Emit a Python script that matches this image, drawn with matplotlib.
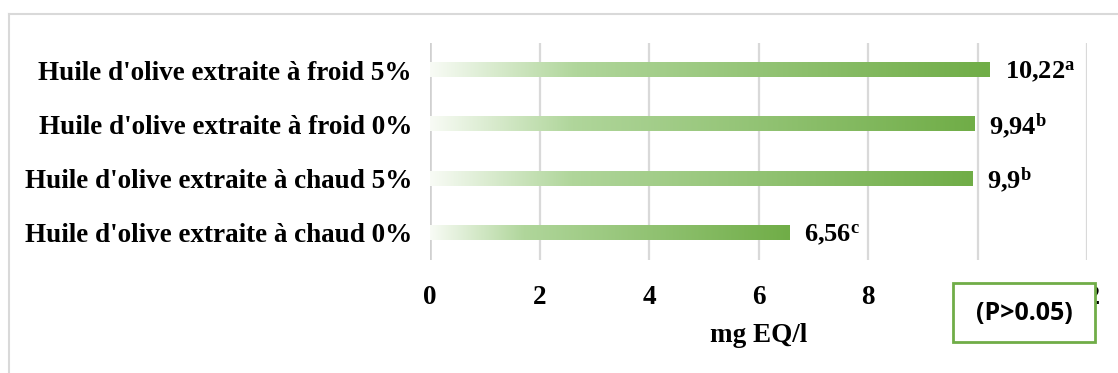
import matplotlib
matplotlib.use("Agg")
import matplotlib.pyplot as plt
import numpy as np
from matplotlib.colors import LinearSegmentedColormap
from matplotlib.patches import Rectangle
from matplotlib.lines import Line2D

# Data
categories = [
    "Huile d'olive extraite à chaud 0%",
    "Huile d'olive extraite à chaud 5%",
    "Huile d'olive extraite à froid 0%",
    "Huile d'olive extraite à froid 5%",
]
values = [6.56, 9.9, 9.94, 10.22]
value_labels = ["6,56", "9,9", "9,94", "10,22"]
letters = ["c", "b", "b", "a"]
xticks = [0, 2, 4, 6, 8, 10, 12]
x_label = "mg EQ/l"
note = "(P>0.05)"

plt.rcParams["font.family"] = "Liberation Serif"
plt.rcParams["mathtext.fontset"] = "custom"
plt.rcParams["mathtext.rm"] = "Liberation Serif:bold"
plt.rcParams["mathtext.bf"] = "Liberation Serif:bold"
plt.rcParams["mathtext.it"] = "Liberation Serif:bold"
plt.rcParams["mathtext.default"] = "bf"

W, H = 1118, 373
fig = plt.figure(figsize=(W / 100, H / 100), dpi=100)
ax = fig.add_axes([430 / W, 1 - 260 / H, (1087 - 430) / W, (260 - 43) / H])

green = "#70AD47"
cmap = LinearSegmentedColormap.from_list(
    "bar_grad", [(0.0, "#f8fbf5"), (0.26, "#b0d69b"), (1.0, green)]
)
grad = np.linspace(0, 1, 256).reshape(1, -1)

fs = 19.5
bar_h = 0.26
for i, v in enumerate(values):
    ax.imshow(grad, cmap=cmap, aspect="auto",
              extent=[0, v, i - bar_h / 2, i + bar_h / 2],
              interpolation="bilinear", zorder=3)
    ax.annotate(f"{value_labels[i]}$^{{{letters[i]}}}$", xy=(v, i),
                xytext=(11, -1.5), textcoords="offset points",
                ha="left", va="center", fontsize=19, fontweight="bold",
                zorder=4)

ax.set_xlim(0, 12)
ax.set_ylim(-0.5, len(values) - 0.5)
ax.set_xticks(xticks)
ax.set_xticklabels([str(t) for t in xticks], fontsize=fs, fontweight="bold")
ax.set_yticks(range(len(categories)))
ax.set_yticklabels(categories, fontsize=fs, fontweight="bold")
ax.tick_params(axis="both", length=0)
ax.tick_params(axis="x", pad=18)
ax.tick_params(axis="y", pad=13)
ax.set_xlabel(x_label, fontsize=fs, fontweight="bold", labelpad=9)

for t in xticks:
    if t == 0:
        ax.axvline(t, color="#d0d0d0", lw=2.6, zorder=1)
    else:
        ax.axvline(t, color="#d9d9d9", lw=1.6, zorder=1)
for s in ax.spines.values():
    s.set_visible(False)

# outer frame (top and left edges)
fig.add_artist(Line2D([8.5 / W, 1.0], [1 - 13.5 / H, 1 - 13.5 / H],
                      transform=fig.transFigure, color="#d9d9d9", lw=1.5))
fig.add_artist(Line2D([8.5 / W, 8.5 / W], [0, 1 - 13.5 / H],
                      transform=fig.transFigure, color="#d9d9d9", lw=1.5))

# significance box
x0, x1, y0, y1 = 953, 1095, 283, 342
fig.add_artist(Rectangle((x0 / W, 1 - y1 / H), (x1 - x0) / W, (y1 - y0) / H,
                         transform=fig.transFigure, facecolor="white",
                         edgecolor=green, lw=2, zorder=5))
fig.text((x0 + x1) / 2 / W, 1 - 313 / H, note, family="Open Sans",
         fontweight="bold", fontsize=18, ha="center", va="center", zorder=6)

fig.savefig("out.png", dpi=100)
